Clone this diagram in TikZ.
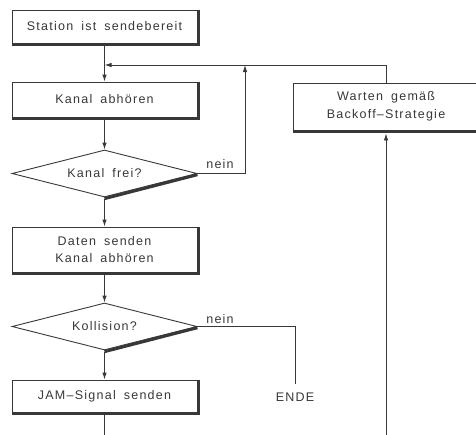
\documentclass[tikz,border=0pt]{standalone}
\usepackage{fontspec}
\setmainfont[LetterSpace=10,WordSpace=1.7]{Liberation Sans}
\usetikzlibrary{shapes.geometric,arrows.meta}
\definecolor{ink}{rgb}{0.22,0.22,0.22}
\tikzset{
  stepbox/.style={draw=ink, line width=0.9pt, minimum width=185pt, inner sep=0pt, align=center, text=ink, font=\fontsize{12.5}{17.5}\selectfont},
  decision/.style={draw=ink, line width=0.9pt, diamond, aspect=3.9, minimum width=185pt, minimum height=47pt, inner sep=0pt, text=ink, font=\fontsize{12.5}{17}\selectfont},
  lbl/.style={text=ink, font=\fontsize{12.5}{14}\selectfont, inner sep=0pt},
  conn/.style={draw=ink, line width=0.9pt},
  arr/.style={conn, -{Latex[length=7pt,width=4.5pt]}},
  shadowline/.style={draw=ink, line width=3pt, line cap=butt}
}
\begin{document}
\begin{tikzpicture}[x=1pt,y=-1pt]
\useasboundingbox (0,0) rectangle (476,434);
\clip (0,0) rectangle (476,434);
% nodes
\node[stepbox, minimum height=33pt] (b1) at (104.5,26.5) {Station ist sendebereit};
\node[stepbox, minimum height=35pt] (b2) at (104.5,99.5) {Kanal abhören};
\node[decision] (d1) at (104.5,173.5) {Kanal frei?};
\node[stepbox, minimum height=45pt] (b3) at (104.5,249.5) {Daten senden\\Kanal abhören};
\node[decision] (d2) at (104.5,326.5) {Kollision?};
\node[stepbox, minimum height=32pt] (b4) at (104.5,396) {JAM–Signal senden};
\node[stepbox, minimum width=186pt, minimum height=47pt] (w) at (386,106.5) {Warten gemäß\\Backoff–Strategie};
\node[lbl] (n1) at (220,164) {nein};
\node[lbl] (n2) at (220,319) {nein};
\node[lbl] (ende) at (295,397) {ENDE};
% coordinates
\coordinate (j1) at (104.5,65);
\coordinate (k1) at (245,65);
\coordinate (k2) at (245,173.5);
\coordinate (e1) at (295,326.5);
\coordinate (e2) at (295,384);
\coordinate (bot1) at (104.5,440);
\coordinate (bot2) at (386,440);
% shadows
\foreach \n in {b1,b2,b3,b4}{
  \draw[shadowline] ([xshift=1.5pt]\n.north east) -- ([xshift=1.5pt,yshift=-1.5pt]\n.south east) -- ([yshift=-1.5pt]\n.south west);
}
\draw[shadowline] ([yshift=-1.5pt]w.south west) -- ([yshift=-1.5pt]w.south east);
\draw[shadowline] ([yshift=-1.2pt]d1.south) -- ([yshift=-1.2pt]d1.east);
\draw[shadowline] ([yshift=-1.2pt]d2.south) -- ([yshift=-1.2pt]d2.east);
% connectors
\draw[arr] (b1.south) -- (b2.north);
\draw[arr] (b2.south) -- (d1.north);
\draw[arr] ([yshift=-2pt]d1.south) -- (b3.north);
\draw[arr] (b3.south) -- (d2.north);
\draw[arr] ([yshift=-2pt]d2.south) -- (b4.north);
\draw[conn] ([yshift=-2pt]b4.south) -- (bot1);
\draw[arr] (d1.east) -- (k2) -- (k1);
\draw[arr] (w.north) |- (j1);
\draw[conn] (d2.east) -- (e1) -- (e2);
\draw[arr] (bot2) -- ([yshift=-3pt]w.south);
\end{tikzpicture}
\end{document}
